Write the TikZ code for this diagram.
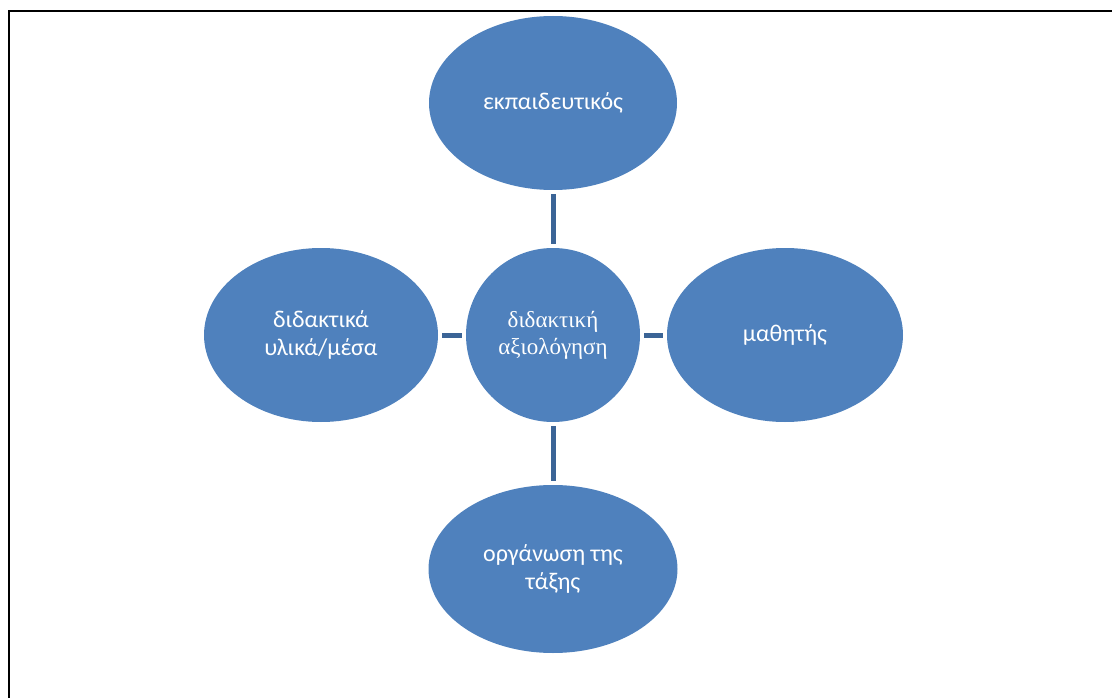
\documentclass[tikz,border=0pt]{standalone}
\usepackage{fontspec}
\setmainfont{Carlito}
\newfontfamily\greekserif{Liberation Serif}
\usetikzlibrary{shapes.geometric}
\definecolor{bubblefill}{HTML}{4F81BD}
\definecolor{linkcolor}{HTML}{3B6496}
\begin{document}
\begin{tikzpicture}[x=1pt,y=-1pt,
  bubble/.style={ellipse, fill=bubblefill, draw=none, inner sep=0pt,
    text=white, align=center, font=\fontsize{24}{28}\selectfont},
  hub/.style={bubble, font=\greekserif\fontsize{23}{27}\selectfont},
  link/.style={draw=linkcolor, line width=5pt, shorten <=4pt, shorten >=4pt}]
  \useasboundingbox (0,0) rectangle (1112,698);
  % page frame, only its top and left edges fall inside the picture
  \begin{scope}
    \clip (0,0) rectangle (1112,698);
    \draw[line width=2pt] (9,720) -- (9,11) -- (1140,11);
  \end{scope}
  % hub and satellites
  \node[hub, minimum width=174pt, minimum height=174pt] (hub) at (553,335)
    {διδακτική\\αξιολόγηση};
  \node[bubble, minimum width=248pt, minimum height=174pt] (teacher) at (553,103)
    {εκπαιδευτικός};
  \node[bubble, minimum width=236pt, minimum height=174pt] (student) at (785,335)
    {μαθητής};
  \node[bubble, minimum width=234pt, minimum height=174pt] (materials) at (321,335)
    {διδακτικά\\υλικά/μέσα};
  \node[bubble, minimum width=249pt, minimum height=168pt] (classroom) at (553,569)
    {οργάνωση της\\τάξης};
  % connectors
  \draw[link] (hub) -- (teacher);
  \draw[link] (hub) -- (student);
  \draw[link] (hub) -- (materials);
  \draw[link] (hub) -- (classroom);
\end{tikzpicture}
\end{document}
